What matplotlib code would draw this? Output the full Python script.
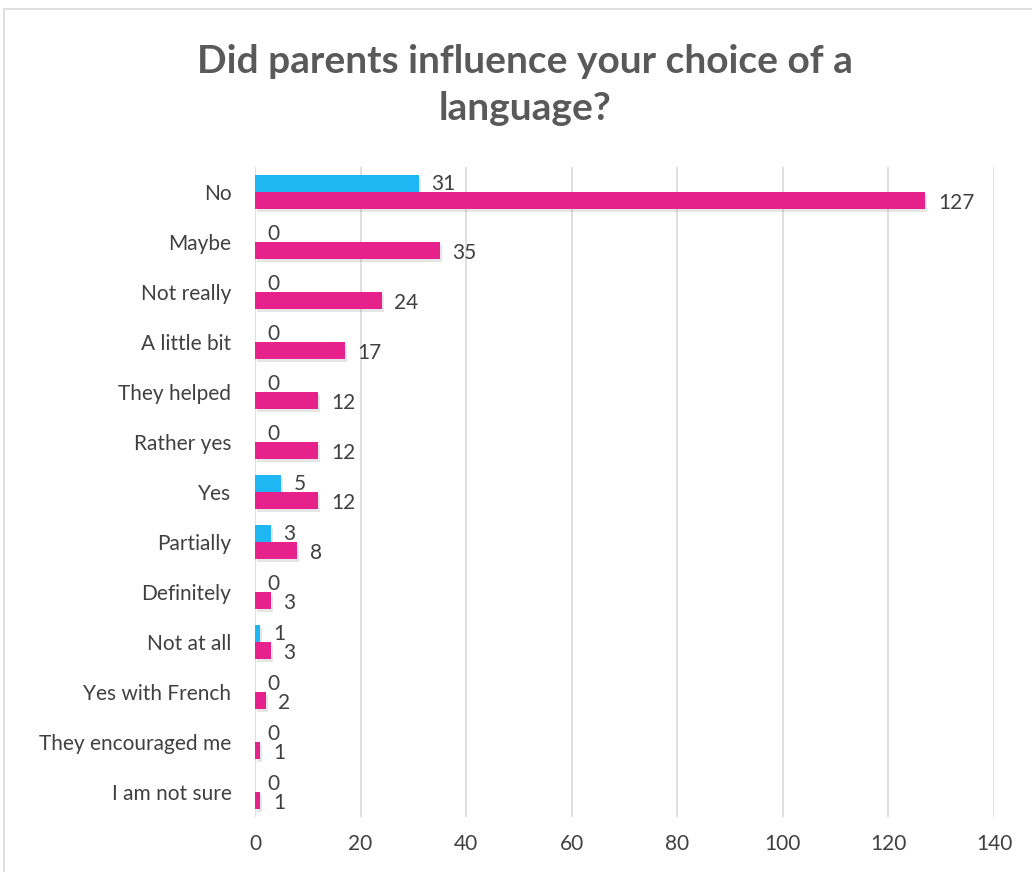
import matplotlib.pyplot as plt
import matplotlib.patheffects as pe
from matplotlib.patches import Rectangle
import numpy as np

# answers, top to bottom
answers = ["No", "Maybe", "Not really", "A little bit", "They helped", "Rather yes",
           "Yes", "Partially", "Definitely", "Not at all", "Yes with French",
           "They encouraged me", "I am not sure"]
blue_vals = [31, 0, 0, 0, 0, 0, 5, 3, 0, 1, 0, 0, 0]
pink_vals = [127, 35, 24, 17, 12, 12, 12, 8, 3, 3, 2, 1, 1]
x_ticks = [0, 20, 40, 60, 80, 100, 120, 140]

plt.rcParams['font.family'] = ['Lato', 'DejaVu Sans']

fig = plt.figure(figsize=(10.32, 8.72), dpi=100)
W, H = 1032, 872
ax = fig.add_axes([255 / W, 1 - 817 / H, (994 - 255) / W, (817 - 167) / H])

fig.patches.append(Rectangle((4 / W, -0.1), 1.2, 1 - 9 / H + 0.1, transform=fig.transFigure,
                             fill=False, edgecolor="#D9D9D9", linewidth=1.2))

y = np.arange(len(answers))
h = 0.34
shadow = [pe.SimplePatchShadow(offset=(1.5, -2), shadow_rgbFace="#999999", alpha=0.25), pe.Normal()]

bb = ax.barh(y - h / 2, blue_vals, height=h, color="#1FB6F4", zorder=3)
pb = ax.barh(y + h / 2, pink_vals, height=h, color="#E7218C", zorder=3)
for b in list(bb) + list(pb):
    b.set_path_effects(shadow)

for yi, v in zip(y, blue_vals):
    ax.annotate(str(v), (v, yi - h / 2), xytext=(9, 0), textcoords="offset points",
                va="center", ha="left", fontsize=15, color="#404040")
for yi, v in zip(y, pink_vals):
    ax.annotate(str(v), (v, yi + h / 2), xytext=(9, -2), textcoords="offset points",
                va="center", ha="left", fontsize=15, color="#404040")

ax.set_xlim(0, 140)
ax.set_ylim(len(answers) - 0.5, -0.5)
ax.set_xticks(x_ticks)
ax.set_yticks(y)
ax.set_yticklabels(answers)
ax.tick_params(axis="both", length=0, labelsize=15, colors="#404040")
ax.tick_params(axis="x", pad=12)
ax.tick_params(axis="y", pad=17)
ax.grid(axis="x", color="#D9D9D9", linewidth=1.2, zorder=0)
for s in ax.spines.values():
    s.set_visible(False)

fig.text(0.509, 1 - 85 / H, "Did parents influence your choice of a\nlanguage?",
         ha="center", va="center", fontsize=28, fontweight="bold", color="#595959",
         linespacing=1.4)

fig.savefig("out.png", dpi=100)
